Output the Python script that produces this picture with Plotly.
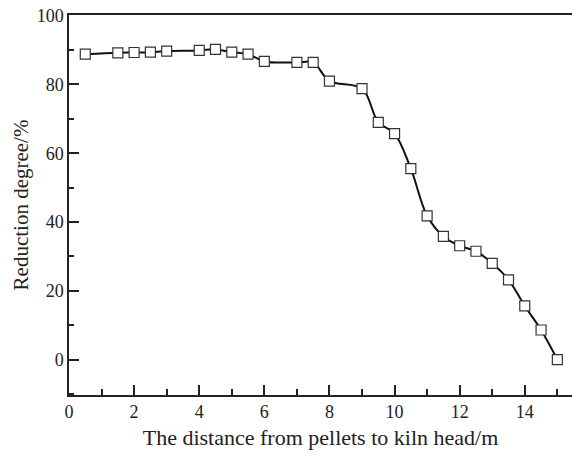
import plotly.graph_objects as go

distance = [0.5, 1.5, 2.0, 2.5, 3.0, 4.0, 4.5, 5.0, 5.5, 6.0, 7.0, 7.5, 8.0, 9.0,
            9.5, 10.0, 10.5, 11.0, 11.5, 12.0, 12.5, 13.0, 13.5, 14.0, 14.5, 15.0]
reduction = [88.8, 89.2, 89.3, 89.4, 89.7, 89.9, 90.2, 89.4, 88.8, 86.7, 86.4, 86.4,
             81.0, 78.8, 69.0, 65.7, 55.5, 41.8, 35.8, 33.1, 31.5, 28.0, 23.2, 15.6,
             8.6, 0.0]

x_title = "The distance from pellets to kiln head/m"
y_title = "Reduction degree/%"

font_family = "Liberation Serif"
ink = "#222222"

fig = go.Figure()
fig.add_trace(go.Scatter(
    x=distance, y=reduction,
    mode="lines+markers",
    line=dict(color="#111111", width=2, shape="spline", smoothing=1.0),
    marker=dict(symbol="square", size=10, color="white",
                line=dict(color="#333333", width=1.2)),
    showlegend=False,
))

fig.update_xaxes(
    showgrid=False, zeroline=False, showline=True, linecolor=ink, linewidth=1.5,
    ticks="inside", ticklen=10, tickwidth=1.5, tickcolor=ink,
    tickfont=dict(family=font_family, size=18, color=ink),
    range=[0, 15.45], dtick=2, tick0=0, mirror=True,
    minor=dict(ticks="inside", ticklen=6, dtick=1, tickwidth=1.5, tickcolor=ink,
               showgrid=False),
    title=dict(text=x_title, font=dict(family=font_family, size=22, color=ink),
               standoff=8),
)
fig.update_yaxes(
    showgrid=False, zeroline=False, showline=True, linecolor=ink, linewidth=1.5,
    ticks="inside", ticklen=10, tickwidth=1.5, tickcolor=ink,
    tickfont=dict(family=font_family, size=18, color=ink),
    range=[-10.3, 100.2], dtick=20, tick0=0, mirror=False,
    minor=dict(ticks="inside", ticklen=5, dtick=10, tickwidth=1.5, tickcolor=ink,
               showgrid=False),
    title=dict(text=y_title, font=dict(family=font_family, size=21, color=ink),
               standoff=2),
)

fig.update_layout(
    width=572, height=456,
    margin=dict(l=69, r=0, t=15, b=61),
    plot_bgcolor="white", paper_bgcolor="white",
)

fig.write_html("out.html")
